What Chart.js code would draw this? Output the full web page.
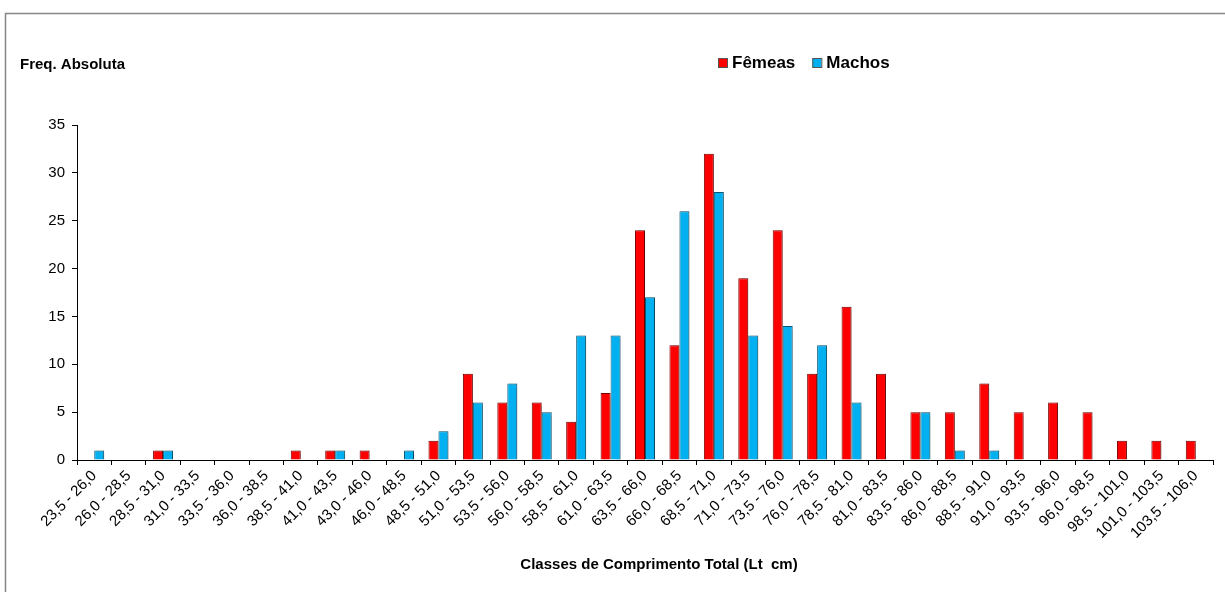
<!DOCTYPE html>
<html>
<head>
<meta charset="utf-8">
<script src="https://cdn.jsdelivr.net/npm/chart.js@4/dist/chart.umd.min.js"></script>
<style>
  html, body { margin: 0; padding: 0; background: #ffffff; }
  #wrap { width: 1225px; height: 592px; position: relative; }
</style>
</head>
<body>
<div id="wrap"><canvas id="chart" width="1225" height="592"></canvas></div>
<script>
// Length classes (total length, cm)
const classes = [
  '23,5 - 26,0', '26,0 - 28,5', '28,5 - 31,0', '31,0 - 33,5', '33,5 - 36,0',
  '36,0 - 38,5', '38,5 - 41,0', '41,0 - 43,5', '43,0 - 46,0', '46,0 - 48,5',
  '48,5 - 51,0', '51,0 - 53,5', '53,5 - 56,0', '56,0 - 58,5', '58,5 - 61,0',
  '61,0 - 63,5', '63,5 - 66,0', '66,0 - 68,5', '68,5 - 71,0', '71,0 - 73,5',
  '73,5 - 76,0', '76,0 - 78,5', '78,5 - 81,0', '81,0 - 83,5', '83,5 - 86,0',
  '86,0 - 88,5', '88,5 - 91,0', '91,0 - 93,5', '93,5 - 96,0', '96,0 - 98,5',
  '98,5 - 101,0', '101,0 - 103,5', '103,5 - 106,0'
];

// Absolute frequency per class
const femeas = [0, 0, 1, 0, 0, 0, 1, 1, 1, 0, 2, 9, 6, 6, 4, 7, 24, 12, 32, 19, 24, 9, 16, 9, 5, 5, 8, 5, 6, 5, 2, 2, 2];
const machos = [1, 0, 1, 0, 0, 0, 0, 1, 0, 1, 3, 6, 8, 5, 13, 13, 17, 26, 28, 13, 14, 12, 6, 0, 5, 1, 1, 0, 0, 0, 0, 0, 0];

const yTicks = [0, 5, 10, 15, 20, 25, 30, 35];

const yCaption = 'Freq. Absoluta';
const xCaption = 'Classes de Comprimento Total (Lt  cm)';

const FONT = "'Liberation Sans', Arial, Helvetica, sans-serif";

// Frame, axis captions and legend drawn on the canvas
const decorations = {
  id: 'decorations',
  beforeDraw(chart) {
    const ctx = chart.ctx;
    ctx.save();
    ctx.strokeStyle = '#868686';
    ctx.lineWidth = 1.5;
    ctx.beginPath();
    ctx.moveTo(5.5, 600);
    ctx.lineTo(5.5, 13.5);
    ctx.lineTo(1240, 13.5);
    ctx.stroke();
    ctx.restore();
  },
  afterDraw(chart) {
    const ctx = chart.ctx;
    ctx.save();
    ctx.fillStyle = '#000';
    ctx.textBaseline = 'middle';
    ctx.font = 'bold 15px ' + FONT;
    ctx.textAlign = 'left';
    ctx.fillText(yCaption, 20, 65);
    ctx.textAlign = 'center';
    ctx.fillText(xCaption, 659, 565);

    // legend
    ctx.textAlign = 'left';
    ctx.font = 'bold 17px ' + FONT;
    let x = 718;
    const y = 63;
    chart.data.datasets.forEach((ds) => {
      ctx.fillStyle = ds.backgroundColor;
      ctx.strokeStyle = '#555';
      ctx.lineWidth = 1;
      ctx.fillRect(x, y - 5, 9, 9);
      ctx.strokeRect(x + 0.5, y - 4.5, 9, 9);
      ctx.fillStyle = '#000';
      ctx.fillText(ds.label, x + 14, y);
      x += 14 + ctx.measureText(ds.label).width + 17;
    });
    ctx.restore();
  }
};

// Light drop shadow behind the bars
const barShadow = {
  id: 'barShadow',
  beforeDatasetsDraw(chart) {
    const ctx = chart.ctx;
    ctx.save();
    ctx.shadowColor = 'rgba(0,0,0,0.18)';
    ctx.shadowOffsetX = 2;
    ctx.shadowOffsetY = 0;
    ctx.shadowBlur = 1;
  },
  afterDatasetsDraw(chart) {
    chart.ctx.restore();
  }
};

new Chart(document.getElementById('chart'), {
  type: 'bar',
  data: {
    labels: classes,
    datasets: [
      {
        label: 'Fêmeas',
        data: femeas,
        backgroundColor: '#FF0000',
        borderColor: '#7a0000',
        borderWidth: 1,
        categoryPercentage: 0.58,
        barPercentage: 1.0
      },
      {
        label: 'Machos',
        data: machos,
        backgroundColor: '#00B0F0',
        borderColor: '#0b5877',
        borderWidth: 1,
        categoryPercentage: 0.58,
        barPercentage: 1.0
      }
    ]
  },
  options: {
    responsive: false,
    animation: false,
    devicePixelRatio: 1,
    layout: { padding: { left: 5, right: 12, top: 125, bottom: 0 } },
    plugins: {
      legend: { display: false },
      title: { display: false },
      tooltip: { enabled: false }
    },
    scales: {
      x: {
        grid: {
          display: true,
          drawOnChartArea: false,
          offset: true,
          tickLength: 5,
          color: '#000'
        },
        border: { color: '#000', width: 1 },
        ticks: {
          autoSkip: false,
          maxRotation: 45,
          minRotation: 45,
          color: '#000',
          padding: 2,
          font: { family: FONT, size: 15 }
        },
        afterFit(scale) { scale.height = 132; }
      },
      y: {
        min: 0,
        max: 35,
        afterBuildTicks(scale) { scale.ticks = yTicks.map(v => ({ value: v })); },
        grid: {
          display: true,
          drawOnChartArea: false,
          tickLength: 5,
          color: '#000'
        },
        border: { color: '#000', width: 1 },
        ticks: {
          color: '#000',
          padding: 7,
          font: { family: FONT, size: 15 }
        },
        afterFit(scale) { scale.width = 72; }
      }
    }
  },
  plugins: [decorations, barShadow]
});
</script>
</body>
</html>
